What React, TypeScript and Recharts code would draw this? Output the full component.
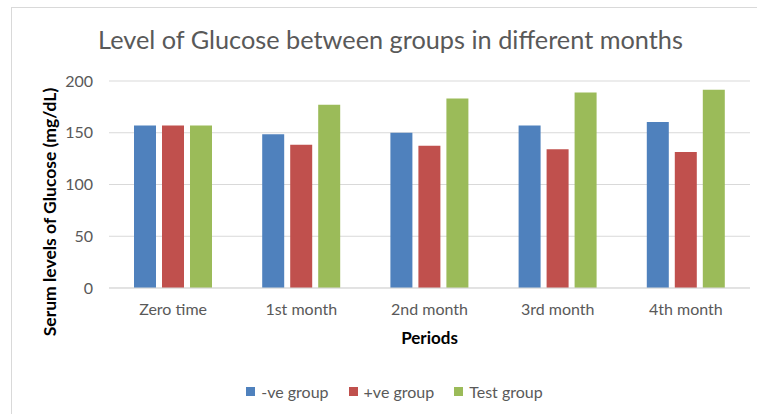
import React from 'react';
import { BarChart, Bar, XAxis, YAxis, CartesianGrid, Legend } from 'recharts';

const periods = ['Zero time', '1st month', '2nd month', '3rd month', '4th month'];
const negativeGroup = [157, 148.5, 150, 157, 160.5];
const positiveGroup = [157, 138.5, 137.5, 134, 131.5];
const testGroup = [157, 177, 183, 189, 191.5];
const yTicks = [0, 50, 100, 150, 200];

const seriesInfo = [
  { key: 'neg', name: '-ve group', color: '#4F81BD' },
  { key: 'pos', name: '+ve group', color: '#C0504D' },
  { key: 'test', name: 'Test group', color: '#9BBB59' },
];

const data = periods.map((p, i) => ({
  period: p,
  neg: negativeGroup[i],
  pos: positiveGroup[i],
  test: testGroup[i],
}));

const FONT = 'Lato, "Open Sans", sans-serif';
const GREY = '#595959';

const renderLegend = () => (
  <div style={{ display: 'flex', justifyContent: 'center', alignItems: 'center', gap: 20, paddingRight: 20, fontFamily: FONT, fontSize: 16, color: GREY }}>
    {seriesInfo.map(s => (
      <div key={s.key} style={{ display: 'flex', alignItems: 'center' }}>
        <span style={{ width: 9, height: 9, background: s.color, display: 'inline-block', marginRight: 6 }} />
        <span>{s.name}</span>
      </div>
    ))}
  </div>
);

export default function App() {
  return (
    <div style={{ position: 'absolute', left: 0, top: 0, width: 757, height: 414, overflow: 'hidden', background: '#fff' }}>
      {/* chart frame, cut off at right/bottom like the source screenshot */}
      <div style={{ position: 'absolute', left: 11, top: 7, width: 760, height: 420, border: '1px solid #d9d9d9', boxSizing: 'border-box' }} />
      <div style={{ position: 'absolute', left: 0, top: 24, width: 781, textAlign: 'center', fontFamily: FONT, fontSize: 25.3, color: GREY, whiteSpace: 'nowrap' }}>
        Level of Glucose between groups in different months
      </div>
      <div style={{ position: 'absolute', left: 0, top: 0 }}>
        <BarChart
          width={757}
          height={414}
          data={data}
          margin={{ top: 81, right: 7, left: 59, bottom: 2 }}
          barSize={22}
          barGap={6}
        >
          <CartesianGrid vertical={false} stroke="#d9d9d9" />
          <XAxis
            dataKey="period"
            height={94}
            axisLine={{ stroke: '#d9d9d9' }}
            tickLine={false}
            tickMargin={10}
            tick={{ fill: GREY, fontSize: 16, fontFamily: FONT }}
            label={{ value: 'Periods', position: 'insideTop', offset: 44, fill: '#000', fontSize: 17, fontWeight: 'bold', fontFamily: FONT }}
          />
          <YAxis
            width={50}
            domain={[0, 200]}
            ticks={yTicks}
            axisLine={false}
            tickLine={false}
            tickSize={0}
            tickMargin={16}
            tick={{ fill: GREY, fontSize: 16, fontFamily: FONT }}
            label={{
              content: () => (
                <text transform="translate(49,212) rotate(-90)" textAnchor="middle" dominantBaseline="central" fontFamily={FONT} fontSize={17.5} fontWeight="bold" fill="#000">
                  Serum levels of Glucose (mg/dL)
                </text>
              ),
            }}
          />
          <Legend verticalAlign="bottom" height={30} content={renderLegend} />
          {seriesInfo.map(s => (
            <Bar key={s.key} dataKey={s.key} name={s.name} fill={s.color} isAnimationActive={false} />
          ))}
        </BarChart>
      </div>
    </div>
  );
}
